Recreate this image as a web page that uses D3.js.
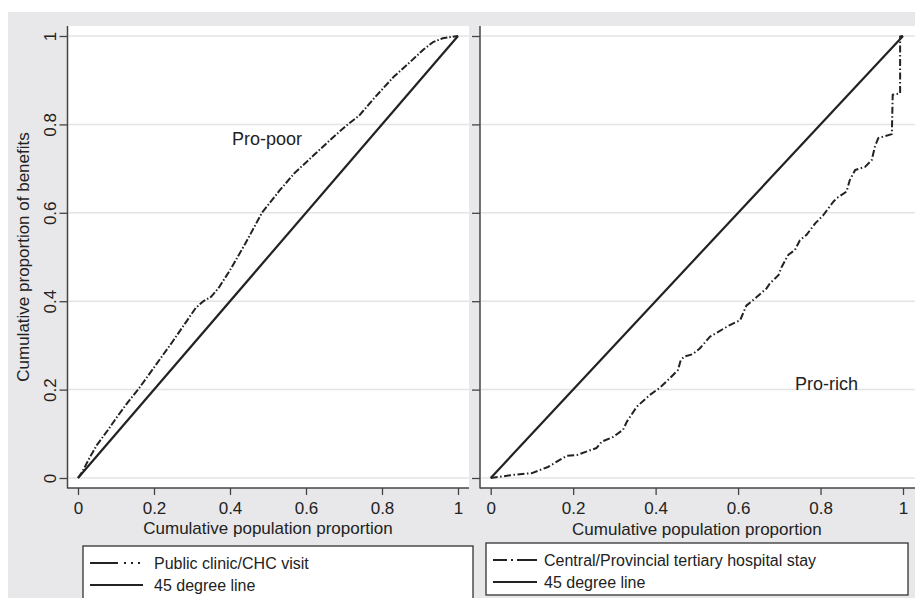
<!DOCTYPE html>
<html>
<head>
<meta charset="utf-8">
<script src="https://cdn.jsdelivr.net/npm/d3@7"></script>
<style>
  html, body { margin: 0; padding: 0; background: #ffffff; }
  svg { display: block; font-family: "Liberation Sans", Arial, Helvetica, sans-serif; }
</style>
</head>
<body>
<svg id="chart" width="915" height="598"></svg>
<script>
// ---- data ----
const xTicks = [0, 0.2, 0.4, 0.6, 0.8, 1];
const yTicks = [0, 0.2, 0.4, 0.6, 0.8, 1];
const diagX = [0, 1];
const diagY = [0, 1];

const clinicX = [0, 0.01, 0.03, 0.05, 0.08, 0.1, 0.13, 0.158, 0.2, 0.25, 0.29, 0.31, 0.33, 0.35, 0.37, 0.4, 0.44, 0.484, 0.53, 0.57, 0.62, 0.67, 0.71, 0.74, 0.78, 0.83, 0.88, 0.91, 0.934, 0.96, 1];
const clinicY = [0, 0.012, 0.045, 0.075, 0.11, 0.135, 0.17, 0.2, 0.25, 0.31, 0.36, 0.385, 0.4, 0.41, 0.43, 0.47, 0.53, 0.6, 0.65, 0.69, 0.73, 0.77, 0.8, 0.82, 0.86, 0.907, 0.946, 0.97, 0.986, 0.995, 1];

const hospX = [0, 0.054, 0.1, 0.139, 0.184, 0.209, 0.257, 0.269, 0.297, 0.321, 0.33, 0.354, 0.386, 0.41, 0.435, 0.454, 0.461, 0.47, 0.49, 0.507, 0.532, 0.58, 0.605, 0.62, 0.641, 0.669, 0.677, 0.698, 0.706, 0.722, 0.738, 0.75, 0.766, 0.787, 0.807, 0.819, 0.831, 0.839, 0.863, 0.871, 0.884, 0.908, 0.924, 0.932, 0.94, 0.973, 0.975, 0.993, 0.993, 1];
const hospY = [0, 0.007, 0.011, 0.025, 0.05, 0.052, 0.068, 0.082, 0.093, 0.109, 0.127, 0.161, 0.188, 0.204, 0.226, 0.244, 0.267, 0.275, 0.28, 0.293, 0.32, 0.346, 0.357, 0.39, 0.406, 0.429, 0.44, 0.459, 0.478, 0.505, 0.516, 0.538, 0.55, 0.576, 0.595, 0.61, 0.625, 0.633, 0.648, 0.674, 0.697, 0.704, 0.719, 0.75, 0.769, 0.778, 0.867, 0.87, 0.999, 1];

const xTitle = "Cumulative population proportion";
const yTitle = "Cumulative proportion of benefits";
const legendLeft = ["Public clinic/CHC visit", "45 degree line"];
const legendRight = ["Central/Provincial tertiary hospital stay", "45 degree line"];

// ---- drawing ----
const svg = d3.select("#chart");
const ink = "#222";
const axisCol = "#444";
const gridCol = "#e4e4e4";

// outer grey background
svg.append("rect").attr("x", 8).attr("y", 12).attr("width", 907).attr("height", 586).attr("fill", "#e8e8ea");

const yScale = d3.scaleLinear().domain([0, 1]).range([478, 36]);

const panels = [
  { left: 67.5, right: 469, x: d3.scaleLinear().domain([0, 1]).range([78, 458]), labels: true,
    curveX: clinicX, curveY: clinicY, dash: "7,2,1.5,2",
    note: "Pro-poor", noteX: 0.405, noteY: 0.753, titleY: 534 },
  { left: 480, right: 915, x: d3.scaleLinear().domain([0, 1]).range([490.7, 903]), labels: false,
    curveX: hospX, curveY: hospY, dash: "7,2.5,1.5,2.5",
    note: "Pro-rich", noteX: 0.738, noteY: 0.2, titleY: 535 }
];

const plotTop = 26, plotBottom = 488;

panels.forEach(p => {
  const g = svg.append("g");
  g.append("rect").attr("x", p.left).attr("y", plotTop).attr("width", p.right - p.left).attr("height", plotBottom - plotTop).attr("fill", "#fff");
  g.selectAll("line.grid").data(yTicks).enter().append("line")
    .attr("x1", p.left + 1).attr("x2", p.right)
    .attr("y1", d => yScale(d)).attr("y2", d => yScale(d))
    .attr("stroke", gridCol).attr("stroke-width", 1.5);

  const xa = g.append("g").attr("transform", `translate(0,${plotBottom})`)
    .call(d3.axisBottom(p.x).tickValues(xTicks).tickSize(7).tickPadding(7).tickFormat(d3.format("")));
  xa.select(".domain").remove();
  xa.selectAll("line").attr("stroke", axisCol).attr("stroke-width", 1.3);
  xa.selectAll("text").attr("fill", ink).style("font-size", "17px");

  const ya = g.append("g").attr("transform", `translate(${p.left},0)`)
    .call(d3.axisLeft(yScale).tickValues(yTicks).tickSize(8).tickFormat(p.labels ? d3.format("") : () => ""));
  ya.select(".domain").remove();
  ya.selectAll("line").attr("stroke", axisCol).attr("stroke-width", 1.3);
  ya.selectAll("text").attr("fill", ink).style("font-size", "17px")
    .attr("x", 0).attr("dy", 0).attr("text-anchor", "middle")
    .attr("transform", "translate(-12,0) rotate(-90)");

  g.append("line").attr("x1", p.left).attr("x2", p.left).attr("y1", plotTop).attr("y2", plotBottom + 0.5)
    .attr("stroke", axisCol).attr("stroke-width", 1.5);
  g.append("line").attr("x1", p.left).attr("x2", p.right).attr("y1", plotBottom).attr("y2", plotBottom)
    .attr("stroke", axisCol).attr("stroke-width", 1.5);

  const line = d3.line().x(d => p.x(d[0])).y(d => yScale(d[1]));
  g.append("path").datum(d3.zip(diagX, diagY)).attr("d", line)
    .attr("fill", "none").attr("stroke", ink).attr("stroke-width", 2.2);
  g.append("path").datum(d3.zip(p.curveX, p.curveY)).attr("d", line)
    .attr("fill", "none").attr("stroke", ink).attr("stroke-width", 2)
    .attr("stroke-dasharray", p.dash).attr("stroke-linejoin", "round");

  g.append("text").attr("x", p.x(p.noteX)).attr("y", yScale(p.noteY))
    .attr("fill", ink).style("font-size", "18px").text(p.note);

  g.append("text").attr("x", (p.x(0) + p.x(1)) / 2).attr("y", p.titleY)
    .attr("text-anchor", "middle").attr("fill", ink).style("font-size", "17px").text(xTitle);
});

svg.append("text").attr("transform", `translate(29,${(yScale(0) + yScale(1)) / 2}) rotate(-90)`)
  .attr("text-anchor", "middle").attr("fill", ink).style("font-size", "17px").text(yTitle);

function legend(x0, y0, w, h, rows, samples, lineX1, lineX2, textX, rowYs) {
  const g = svg.append("g");
  g.append("rect").attr("x", x0).attr("y", y0).attr("width", w).attr("height", h)
    .attr("fill", "#fff").attr("stroke", "#333").attr("stroke-width", 1.3);
  rows.forEach((r, i) => {
    g.append("line").attr("x1", lineX1).attr("x2", lineX2).attr("y1", rowYs[i]).attr("y2", rowYs[i])
      .attr("stroke", ink).attr("stroke-width", 2).attr("stroke-dasharray", samples[i]);
    g.append("text").attr("x", textX).attr("y", rowYs[i] + 6).attr("fill", ink)
      .style("font-size", "16px").text(r);
  });
}
legend(83, 546, 390, 60, legendLeft, ["28,6,2,5,2,5,2,3", null], 90, 143, 154, [563, 585]);
legend(486, 543, 422, 52, legendRight, ["14,4,2,4,20", null], 493, 537, 544, [560, 582]);
</script>
</body>
</html>
